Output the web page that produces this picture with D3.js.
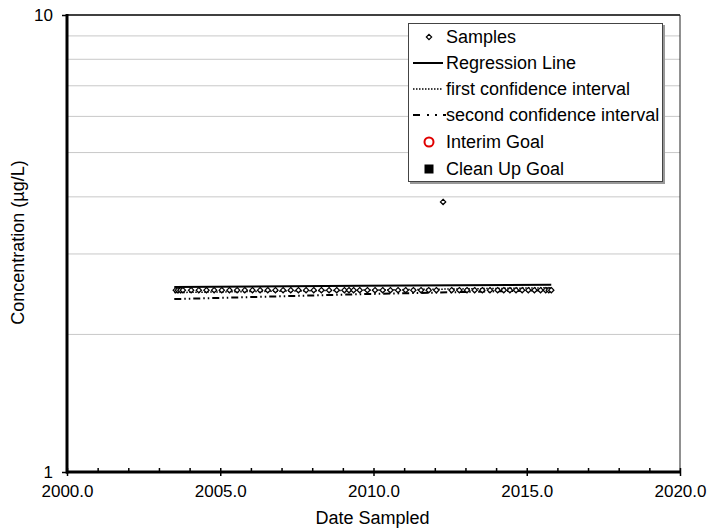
<!DOCTYPE html>
<html>
<head>
<meta charset="utf-8">
<script src="https://cdn.jsdelivr.net/npm/d3@7"></script>
<style>
  body { margin: 0; background: #fff; }
  text { font-family: "Liberation Sans", Arial, sans-serif; fill: #000; }
</style>
</head>
<body>
<script>
// sample data
var sampleDates = [2003.55, 2003.62, 2003.70, 2003.78, 2004.05, 2004.30, 2004.55, 2004.80,
  2005.05, 2005.30, 2005.55, 2005.80, 2006.05, 2006.30, 2006.55, 2006.80,
  2007.05, 2007.30, 2007.55, 2007.80, 2008.05, 2008.30, 2008.55, 2008.80,
  2009.05, 2009.20, 2009.35, 2009.55, 2009.80, 2010.05, 2010.30, 2010.55, 2010.80,
  2011.05, 2011.30, 2011.55, 2011.80, 2012.05, 2012.27, 2012.55, 2012.80,
  2013.05, 2013.30, 2013.55, 2013.80, 2014.05, 2014.25, 2014.45, 2014.65, 2014.85,
  2015.05, 2015.25, 2015.45, 2015.62, 2015.72, 2015.80];
var sampleValues = sampleDates.map(function(d){ return Math.abs(d - 2012.27) < 0.01 ? 3.9 : 2.5; });

var lineYears = [2003.5, 2009.6, 2015.8];
var regression = [2.54, 2.555, 2.57];
var firstCI = [2.47, 2.50, 2.53];
var secondCI = [2.39, 2.45, 2.50];

var xTicks = [2000, 2005, 2010, 2015, 2020];
var yTicks = [1, 10];
var legendLabels = ["Samples", "Regression Line", "first confidence interval",
  "second confidence interval", "Interim Goal", "Clean Up Goal"];

var width = 710, height = 532;
var pLeft = 67, pRight = 680, pTop = 15, pBottom = 472;

var svg = d3.select('body').append('svg')
  .attr('width', width).attr('height', height);

var x = d3.scaleLinear().domain([2000, 2020]).range([pLeft, pRight]);
var y = d3.scaleLog().domain([1, 10]).range([pBottom, pTop]);

// minor grid
var grid = [2, 3, 4, 5, 6, 7, 8, 9];
svg.append('g').selectAll('line').data(grid).enter().append('line')
  .attr('x1', pLeft).attr('x2', pRight)
  .attr('y1', function(d){ return y(d); }).attr('y2', function(d){ return y(d); })
  .attr('stroke', '#c8c8c8').attr('stroke-width', 1);

// frame top / right
svg.append('line').attr('x1', pLeft).attr('x2', pRight).attr('y1', pTop).attr('y2', pTop)
  .attr('stroke', '#000').attr('stroke-width', 1.5);
svg.append('line').attr('x1', pRight).attr('x2', pRight).attr('y1', pTop).attr('y2', pBottom)
  .attr('stroke', '#222').attr('stroke-width', 1);

// lines
var line = d3.line()
  .x(function(d){ return x(d[0]); })
  .y(function(d){ return y(d[1]); });
function pts(vals){ return lineYears.map(function(yr, i){ return [yr, vals[i]]; }); }

svg.append('path').attr('d', line(pts(secondCI))).attr('fill', 'none')
  .attr('stroke', '#000').attr('stroke-width', 2).attr('stroke-dasharray', '7,3,1.5,3,1.5,3');
svg.append('path').attr('d', line(pts(firstCI))).attr('fill', 'none')
  .attr('stroke', '#000').attr('stroke-width', 1.5).attr('stroke-dasharray', '1.5,1.5');
svg.append('path').attr('d', line(pts(regression))).attr('fill', 'none')
  .attr('stroke', '#000').attr('stroke-width', 2);

// samples
var diamond = d3.symbol().type(d3.symbolDiamond2).size(18);
svg.append('g').selectAll('path').data(sampleDates).enter().append('path')
  .attr('d', diamond)
  .attr('transform', function(d, i){ return 'translate(' + x(d) + ',' + y(sampleValues[i]) + ')'; })
  .attr('fill', '#fff').attr('stroke', '#000').attr('stroke-width', 1.2);

// x axis
var xAxis = d3.axisBottom(x).tickValues(xTicks).tickSize(4)
  .tickFormat(function(d){ return d.toFixed(1); });
var gx = svg.append('g').attr('transform', 'translate(0,' + pBottom + ')').call(xAxis);
gx.select('.domain').remove();
gx.selectAll('.tick line').attr('y1', -4).attr('y2', 4).attr('stroke-width', 1.5);
gx.selectAll('.tick text').attr('y', 13).style('font-size', '17px')
  .style('font-family', '"Liberation Sans", Arial, sans-serif');
var minor = d3.axisBottom(x).tickValues(d3.range(2001, 2020).filter(function(d){ return d % 5 != 0; }))
  .tickSize(-4).tickFormat('');
var gm = svg.append('g').attr('transform', 'translate(0,' + pBottom + ')').call(minor);
gm.select('.domain').remove();
gm.selectAll('.tick line').attr('stroke-width', 1.5);
svg.append('line').attr('x1', pLeft - 1).attr('x2', pRight).attr('y1', pBottom).attr('y2', pBottom)
  .attr('stroke', '#000').attr('stroke-width', 3);

// y axis
var yAxis = d3.axisLeft(y).tickValues(yTicks).tickSize(5).tickFormat(d3.format('d'));
var gy = svg.append('g').attr('transform', 'translate(' + pLeft + ',0)').call(yAxis);
gy.select('.domain').remove();
gy.selectAll('.tick line').attr('stroke-width', 1.5);
gy.selectAll('.tick text').attr('x', -14).style('font-size', '17px')
  .style('font-family', '"Liberation Sans", Arial, sans-serif');
svg.append('line').attr('x1', pLeft).attr('x2', pLeft).attr('y1', pTop - 1).attr('y2', pBottom + 1.5)
  .attr('stroke', '#000').attr('stroke-width', 3);

// axis titles
svg.append('text').attr('x', (pLeft + pRight) / 2 - 1).attr('y', 524)
  .attr('text-anchor', 'middle').style('font-size', '18px').text('Date Sampled');
svg.append('text').attr('transform', 'translate(24,' + ((pTop + pBottom) / 2 - 1) + ') rotate(-90)')
  .attr('text-anchor', 'middle').style('font-size', '18px').text('Concentration (µg/L)');

// legend
var lg = svg.append('g');
lg.append('rect').attr('x', 410).attr('y', 25).attr('width', 255).attr('height', 159)
  .attr('fill', '#999');
lg.append('rect').attr('x', 408.5).attr('y', 23.5).attr('width', 254).attr('height', 158)
  .attr('fill', '#fff').attr('stroke', '#444').attr('stroke-width', 1);
var rowY = [37, 63, 89, 115, 142, 169];
lg.selectAll('text').data(legendLabels).enter().append('text')
  .attr('x', 446).attr('y', function(d, i){ return rowY[i]; }).attr('dy', '0.35em')
  .style('font-size', '18px').text(function(d){ return d; });
lg.append('path').attr('d', diamond).attr('transform', 'translate(429,' + rowY[0] + ')')
  .attr('fill', '#fff').attr('stroke', '#000').attr('stroke-width', 1.2);
lg.append('line').attr('x1', 413).attr('x2', 443).attr('y1', rowY[1]).attr('y2', rowY[1])
  .attr('stroke', '#000').attr('stroke-width', 2);
lg.append('line').attr('x1', 413).attr('x2', 443).attr('y1', rowY[2]).attr('y2', rowY[2])
  .attr('stroke', '#000').attr('stroke-width', 1.5).attr('stroke-dasharray', '1.5,1.5');
lg.append('line').attr('x1', 413).attr('x2', 446).attr('y1', rowY[3]).attr('y2', rowY[3])
  .attr('stroke', '#000').attr('stroke-width', 2).attr('stroke-dasharray', '7,7,2,6,2,6');
lg.append('circle').attr('cx', 429).attr('cy', rowY[4]).attr('r', 4.5)
  .attr('fill', 'none').attr('stroke', '#e00000').attr('stroke-width', 2);
lg.append('rect').attr('x', 424.5).attr('y', rowY[5] - 4.5).attr('width', 9).attr('height', 9)
  .attr('fill', '#000');
</script>
</body>
</html>
